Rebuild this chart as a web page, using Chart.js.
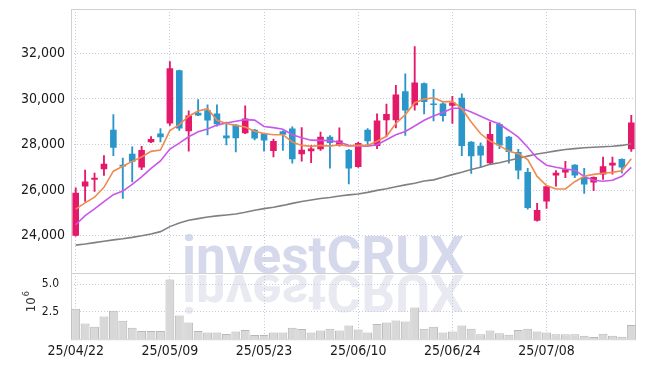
<!DOCTYPE html>
<html>
<head>
<meta charset="utf-8">
<script src="https://cdn.jsdelivr.net/npm/chart.js@4.4.1/dist/chart.umd.min.js"></script>
<style>
html, body { margin: 0; padding: 0; background: #fff; }
#wrap { width: 645px; height: 366px; }
</style>
</head>
<body>
<div id="wrap"><canvas id="CandleChart" width="645" height="366"></canvas></div>
<script>
const dates = [
	"25/04/22", "25/04/23", "25/04/24", "25/04/25", "25/04/28", "25/04/29", "25/04/30", "25/05/02", "25/05/07", "25/05/08",
	"25/05/09", "25/05/12", "25/05/13", "25/05/14", "25/05/15", "25/05/16", "25/05/19", "25/05/20", "25/05/21", "25/05/22",
	"25/05/23", "25/05/26", "25/05/27", "25/05/28", "25/05/29", "25/05/30", "25/06/02", "25/06/04", "25/06/05", "25/06/09",
	"25/06/10", "25/06/11", "25/06/12", "25/06/13", "25/06/16", "25/06/17", "25/06/18", "25/06/19", "25/06/20", "25/06/23",
	"25/06/24", "25/06/25", "25/06/26", "25/06/27", "25/06/30", "25/07/01", "25/07/02", "25/07/03", "25/07/04", "25/07/07",
	"25/07/08", "25/07/09", "25/07/10", "25/07/11", "25/07/14", "25/07/15", "25/07/16", "25/07/17", "25/07/18", "25/07/21",
]

const opens = [
	24000, 26160, 26460, 26910, 28650, 27110, 27600, 26990, 28100, 28480,
	28920, 31250, 28580, 29390, 29500, 29360, 28390, 28870, 28490, 28650,
	28480, 27710, 28580, 28700, 27570, 27700, 27790, 28340, 27960, 27760,
	27010, 28650, 27930, 29060, 29060, 30330, 29720, 30680, 29800, 29800,
	29700, 30050, 28120, 27950, 27180, 28900, 28340, 27670, 26800, 24660,
	25500, 26640, 26770, 27110, 26580, 26330, 26690, 27080, 27360, 27790,
]
const highs = [
	26100, 26880, 26750, 27510, 29310, 27400, 27900, 27920, 28350, 28700,
	31630, 31260, 29480, 29970, 29740, 29740, 28980, 28880, 29700, 28660,
	28490, 28240, 28600, 28770, 28740, 27960, 28550, 28390, 28730, 27790,
	28090, 28700, 29340, 29770, 30590, 31100, 32290, 30700, 30420, 29840,
	30110, 30220, 28130, 28070, 28980, 28950, 28360, 27790, 26960, 25420,
	26190, 26860, 27260, 27120, 26960, 26580, 27450, 27450, 27370, 29280,
]
const lows = [
	23980, 25510, 25940, 26640, 27510, 25640, 26360, 26900, 28080, 28110,
	28840, 28620, 27710, 29260, 28420, 28800, 27980, 27670, 28480, 28200,
	27710, 27460, 27740, 27180, 27270, 27200, 27740, 26960, 27930, 26270,
	26990, 27960, 27820, 28350, 28730, 28400, 29500, 29340, 29030, 29020,
	28920, 27510, 26730, 26990, 27150, 27820, 27180, 26490, 25170, 24640,
	25200, 26170, 26550, 26550, 25860, 25980, 26470, 26700, 26740, 27700,
]
const closes = [
	25880, 26380, 26540, 27160, 27860, 27040, 27240, 27760, 28240, 28320,
	31340, 28700, 29270, 29270, 29050, 28890, 28270, 28270, 29140, 28260,
	28180, 28150, 28430, 27350, 27770, 27830, 28340, 28070, 28170, 26950,
	28070, 28140, 29050, 29340, 30190, 29490, 30720, 29860, 29730, 29250,
	29840, 27930, 27490, 27520, 28460, 27960, 27670, 26860, 25220, 25130,
	26170, 26760, 26920, 26640, 26250, 26570, 27050, 27200, 26990, 28960,
]

// volume, millions of shares
const volumes = [
	2.77, 1.42, 1.12, 2.06, 2.58, 1.67, 1.03, 0.75, 0.75, 0.75,
	5.42, 2.15, 1.51, 0.75, 0.60, 0.60, 0.48, 0.69, 0.84, 0.38,
	0.38, 0.60, 0.60, 1.05, 0.93, 0.60, 0.78, 0.96, 0.78, 1.24,
	0.87, 0.60, 1.39, 1.51, 1.69, 1.60, 2.89, 0.96, 1.12, 0.62,
	0.69, 1.24, 0.96, 0.44, 0.78, 0.53, 0.41, 0.84, 0.96, 0.69,
	0.60, 0.44, 0.44, 0.44, 0.32, 0.20, 0.50, 0.32, 0.23, 1.30,
]

const maShort = [
	25170, 25440, 25690, 26120, 26830, 27050, 27260, 27450, 27700, 27760,
	28610, 28870, 29240, 29470, 29570, 29060, 28920, 28840, 28770, 28580,
	28480, 28430, 28430, 28110, 27960, 27920, 27960, 27930, 27990, 27930,
	27960, 27960, 28140, 28360, 28920, 29310, 29830, 29990, 30050, 29870,
	29890, 29580, 28990, 28470, 28150, 27950, 27700, 27600, 27340, 26600,
	26200, 26050, 26050, 26370, 26610, 26690, 26740, 26780, 26850, 27380,
]
const maMid = [
	24480, 24880, 25180, 25500, 25800, 25960, 26250, 26580, 26950, 27280,
	27800, 28060, 28340, 28560, 28680, 28850, 28940, 29020, 29090, 29070,
	28790, 28740, 28670, 28430, 28300, 28190, 28180, 28170, 28100, 27970,
	27940, 27930, 27990, 28210, 28430, 28570, 28810, 29060, 29250, 29400,
	29590, 29590, 29420, 29240, 29055, 28895, 28615, 28320, 27880, 27400,
	27090, 27000, 26925, 26875, 26600, 26435, 26390, 26435, 26610, 27000,
]
const maLong = [
	23590, 23640, 23700, 23760, 23820, 23870, 23930, 24000, 24080, 24180,
	24400, 24560, 24680, 24750, 24820, 24870, 24910, 24950, 25030, 25120,
	25190, 25250, 25330, 25420, 25500, 25570, 25630, 25680, 25740, 25790,
	25830, 25900, 25990, 26060, 26150, 26230, 26300, 26400, 26450, 26560,
	26680, 26780, 26900, 27000, 27130, 27200, 27300, 27400, 27490, 27580,
	27650, 27720, 27780, 27820, 27860, 27880, 27900, 27920, 27960, 28030,
]

const priceTicks = [24000, 26000, 28000, 30000, 32000]
const volumeTicks = [2.5, 5.0]

const UP = "#e5196a"
const DOWN = "#2b96c9"
const GRID = "#c6cade"
const FRAME = "#d0d0d0"
const FONT = "'DejaVu Sans Condensed', 'DejaVu Sans', sans-serif"

const candleColors = opens.map((o, i) => (closes[i] >= o ? UP : DOWN))

// watermark with its reflection, behind grid and data
const watermark = {
	id: "watermark",
	beforeDraw(chart) {
		const { ctx } = chart
		const text = "investCRUX"
		ctx.save()
		ctx.font = "bold 52px Roboto, 'DejaVu Sans', sans-serif"
		const sx = 282 / ctx.measureText(text).width
		ctx.translate(182, 273)
		ctx.scale(sx, 1)
		ctx.fillStyle = "#d5d9eb"
		ctx.fillText(text, 0, 0)
		ctx.scale(1, -1)
		ctx.fillStyle = "#e9eaf1"
		ctx.fillText(text, 0, -2)
		ctx.restore()
	},
}

// frame around panes, divider and volume exponent label
const frame = {
	id: "frame",
	beforeDatasetsDraw(chart) {
		const { ctx, chartArea } = chart
		const divider = chart.scales.y.bottom
		ctx.save()
		ctx.strokeStyle = FRAME
		ctx.lineWidth = 1
		ctx.strokeRect(chartArea.left + 0.5, chartArea.top + 0.5, chartArea.width - 1, chartArea.height)
		ctx.beginPath()
		ctx.moveTo(chartArea.left, Math.round(divider) + 0.5)
		ctx.lineTo(chartArea.right, Math.round(divider) + 0.5)
		ctx.stroke()
		ctx.restore()
	},
	afterDraw(chart) {
		const { ctx } = chart
		const yv = chart.scales.yv
		ctx.save()
		ctx.translate(32, (yv.top + yv.bottom) / 2 - 3)
		ctx.rotate(-Math.PI / 2)
		ctx.fillStyle = "#333"
		ctx.textBaseline = "middle"
		ctx.font = "13px " + FONT
		ctx.fillText("10", -9, 0)
		ctx.font = "9px " + FONT
		ctx.fillText("6", 7, -5)
		ctx.restore()
	},
}

const gridLine = (ctx) => (ctx.tick && ctx.tick.value === 0 ? "transparent" : GRID)

const fitLeftAxis = (scale) => {
	scale.width = 71
	scale.paddingTop = 0
	scale.paddingBottom = 0
}

new Chart(document.getElementById("CandleChart").getContext("2d"), {
	type: "bar",
	data: {
		labels: dates,
		datasets: [
			{
				type: "line",
				data: maShort,
				borderColor: "#ef8a50",
				borderWidth: 1.6,
				pointRadius: 0,
				yAxisID: "y",
				order: 1,
			},
			{
				type: "line",
				data: maMid,
				borderColor: "#c957ea",
				borderWidth: 1.6,
				pointRadius: 0,
				yAxisID: "y",
				order: 1,
			},
			{
				type: "line",
				data: maLong,
				borderColor: "#808080",
				borderWidth: 1.6,
				pointRadius: 0,
				yAxisID: "y",
				order: 1,
			},
			{
				data: opens.map((o, i) => [o, closes[i]]),
				backgroundColor: candleColors,
				barPercentage: 0.7,
				categoryPercentage: 1,
				minBarLength: 1,
				grouped: false,
				yAxisID: "y",
				order: 2,
			},
			{
				data: lows.map((l, i) => [l, highs[i]]),
				backgroundColor: candleColors,
				barThickness: 1.2,
				grouped: false,
				yAxisID: "y",
				order: 3,
			},
			{
				data: volumes,
				backgroundColor: "#d8d8d8",
				borderColor: "#b8b8b8",
				borderWidth: 1,
				barPercentage: 0.94,
				categoryPercentage: 1,
				grouped: false,
				yAxisID: "yv",
				order: 4,
			},
		],
	},
	options: {
		responsive: false,
		animation: false,
		events: [],
		layout: { padding: { top: 9, right: 9, left: 0, bottom: 2 } },
		plugins: { legend: { display: false }, tooltip: { enabled: false } },
		scales: {
			x: {
				type: "category",
				offset: true,
				afterFit: (scale) => {
					scale.paddingLeft = 0
					scale.paddingRight = 0
				},
				grid: {
					offset: false,
					drawTicks: false,
					color: (ctx) => (ctx.index % 10 === 0 ? GRID : "transparent"),
				},
				border: { display: false, dash: [1, 2] },
				ticks: {
					autoSkip: false,
					maxRotation: 0,
					padding: 4,
					color: "#1a1a1a",
					font: { family: FONT, size: 14 },
					callback: (v, i) => (i % 10 === 0 ? dates[i] : ""),
				},
			},
			yv: {
				position: "left",
				stack: "panes",
				stackWeight: 1,
				min: 0,
				max: 6,
				afterBuildTicks: (scale) => {
					scale.ticks = volumeTicks.map((value) => ({ value }))
				},
				afterFit: fitLeftAxis,
				grid: { drawTicks: false, color: gridLine },
				border: { display: false, dash: [1, 2] },
				ticks: {
					padding: 12,
					color: "#1a1a1a",
					font: { family: FONT, size: 12 },
					callback: (v) => v.toFixed(1),
				},
			},
			y: {
				position: "left",
				stack: "panes",
				stackWeight: 4,
				min: 22360,
				max: 33940,
				afterBuildTicks: (scale) => {
					scale.ticks = priceTicks.map((value) => ({ value }))
				},
				afterFit: fitLeftAxis,
				grid: { drawTicks: false, color: GRID },
				border: { display: false, dash: [1, 2] },
				ticks: {
					padding: 6,
					color: "#1a1a1a",
					font: { family: FONT, size: 14 },
					callback: (v) => v.toLocaleString("en-US"),
				},
			},
		},
	},
	plugins: [watermark, frame],
})
</script>
</body>
</html>
